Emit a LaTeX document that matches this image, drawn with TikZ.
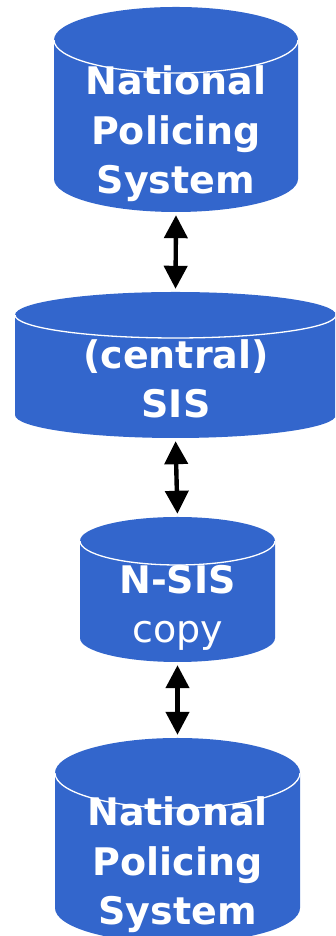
\documentclass[tikz,border=0pt]{standalone}
\usepackage{fontspec}
\setmainfont{DejaVu Sans}
\usetikzlibrary{arrows.meta}
\definecolor{dbblue}{RGB}{51,102,204}
\tikzset{
  rim/.style={draw=white, line width=1.3pt},
  cyltext/.style={text=white, font=\fontsize{38}{49.5}\selectfont\bfseries, align=center, inner sep=0pt},
  link/.style={line width=4.4pt,
    {Triangle[width=23pt,length=23pt]}-{Triangle[width=23pt,length=23pt]},
    shorten >=3pt, shorten <=3pt}
}
% database cylinder: name, centre x, top y, bottom y, x radius, y radius
\newcommand\dbcyl[6]{%
  \fill[dbblue] (#2-#5,#3-#6) -- (#2-#5,#4+#6)
    arc[start angle=180,end angle=360,x radius=#5,y radius=#6]
    -- (#2+#5,#3-#6)
    arc[start angle=0,end angle=180,x radius=#5,y radius=#6] -- cycle;
  \draw[rim] (#2-#5,#3-#6) arc[start angle=180,end angle=360,x radius=#5,y radius=#6];
  \node[inner sep=0pt,minimum width={2*#5pt},minimum height={(#3-#4)*1pt}] (#1) at (#2,{(#3+#4)/2}) {};
}
\begin{document}
\begin{tikzpicture}[x=1pt,y=1pt]
  \useasboundingbox (0,0) rectangle (335,936);
  \clip (0,0) rectangle (335,936);

  \dbcyl{npsTop}{176}{929}{724}{122}{33}
  \dbcyl{sis}{175.5}{644}{498}{160.5}{23}
  \dbcyl{nsis}{177.5}{419}{274}{97.5}{24}
  \dbcyl{npsBottom}{177.5}{198}{-7}{122.5}{35}

  % the base anchor sits on the baseline of the last line
  \node[cyltext, anchor=base] (npsTopText) at (176,742) {National\\Policing\\System};
  \node[cyltext, anchor=base] (sisText) at (176,518) {(central)\\SIS};
  \node[cyltext, anchor=base] (nsisText) at (177.5,293) {N-SIS\\{\mdseries copy}};
  \node[cyltext, anchor=base] (npsBottomText) at (177.5,11) {National\\Policing\\System};

  \draw[link] (npsTop.south) -- (sis.north);
  \draw[link] (sis.south) -- (nsis.north);
  \draw[link] (nsis.south) -- (npsBottom.north);
\end{tikzpicture}
\end{document}
